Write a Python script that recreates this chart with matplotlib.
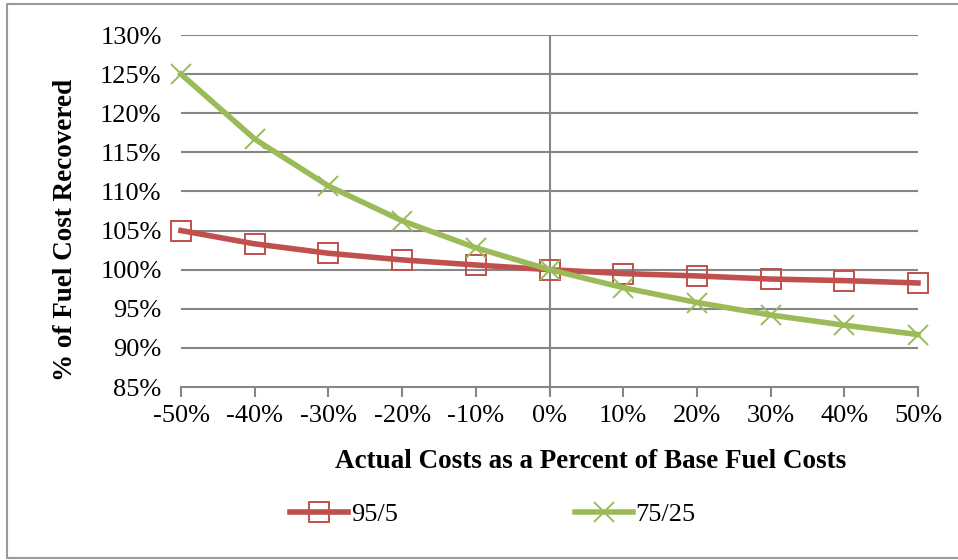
import matplotlib
matplotlib.use("Agg")
import matplotlib.pyplot as plt
from matplotlib.lines import Line2D
from matplotlib.ticker import FuncFormatter, MultipleLocator

# actual costs as % change from base fuel cost
cost_change = [-50, -40, -30, -20, -10, 0, 10, 20, 30, 40, 50]
# % of fuel cost recovered
share_95_5 = [105.0, 103.3, 102.1, 101.25, 100.6, 100.0, 99.5, 99.2, 98.8, 98.6, 98.3]
share_75_25 = [125.0, 116.7, 110.7, 106.25, 102.8, 100.0, 97.7, 95.8, 94.2, 92.9, 91.7]

plt.rcParams['font.family'] = ['Liberation Serif', 'DejaVu Serif']

fig = plt.figure(figsize=(9.58, 5.6), dpi=100)
ax = fig.add_axes([181/958, 1 - 387/560, (918 - 181)/958, (387 - 35)/560])

grid_c = '#868686'
for y in range(90, 131, 5):
    ax.axhline(y, color=grid_c, lw=1.5, zorder=1)
ax.axvline(0, color=grid_c, lw=1.5, zorder=1)

ax.plot(cost_change, share_95_5, color='#C0504D', lw=4, marker='s', ms=14,
        mfc='none', mec='#C0504D', mew=1.4, label='95/5', zorder=3, clip_on=False)
ax.plot(cost_change, share_75_25, color='#9BBB59', lw=4, marker='x', ms=14,
        mec='#9BBB59', mew=1.4, label='75/25', zorder=3, clip_on=False)

ax.set_xlim(-50, 50)
ax.set_ylim(85, 130)
ax.xaxis.set_major_locator(MultipleLocator(10))
ax.yaxis.set_major_locator(MultipleLocator(5))
ax.xaxis.set_major_formatter(FuncFormatter(lambda v, p: f"{v:.0f}%"))
ax.yaxis.set_major_formatter(FuncFormatter(lambda v, p: f"{v:.0f}%"))

for s in ['top', 'right', 'left']:
    ax.spines[s].set_visible(False)
ax.spines['bottom'].set_color(grid_c)
ax.spines['bottom'].set_linewidth(1.5)
ax.tick_params(axis='x', direction='out', length=7, width=1.5, color=grid_c,
               labelsize=19, pad=6)
ax.tick_params(axis='y', length=0, labelsize=19, pad=14)

fig.text(591/958, 1 - 462/560, "Actual Costs as a Percent of Base Fuel Costs",
         fontsize=19.5, fontweight='bold', ha='center', va='center')
fig.text(66/958, 1 - 230/560, "% of Fuel Cost Recovered", fontsize=19.5,
         fontweight='bold', ha='center', va='center', rotation=90)

fig.legend(loc='center', bbox_to_anchor=(493/958, 1 - 514/560), ncol=2, frameon=False,
           fontsize=19, handlelength=2.2, columnspacing=6.7, handletextpad=0.1)

# chart border: left, top and bottom edges (right edge is cut off)
bx = [1.0, 7/958, 7/958, 1.0]
by = [1 - 4/560, 1 - 4/560, 1 - 558/560, 1 - 558/560]
fig.lines.append(Line2D(bx, by, transform=fig.transFigure, color='#9a9a9a', lw=1.5))

fig.savefig('out.png', dpi=100)
